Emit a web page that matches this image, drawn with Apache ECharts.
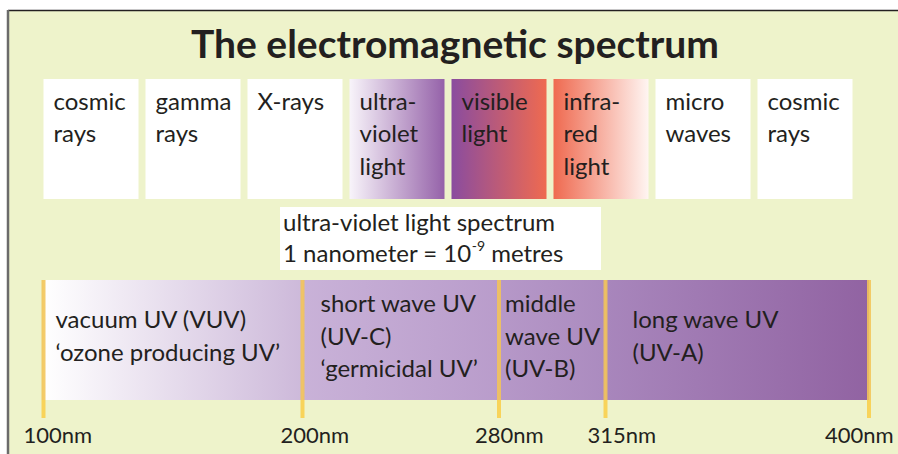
<!DOCTYPE html>
<html>
<head>
<meta charset="utf-8">
<script src="https://cdn.jsdelivr.net/npm/echarts@6/dist/echarts.min.js"></script>
<style>html,body{margin:0;padding:0;background:#fff}#c{width:898px;height:454px}</style>
</head>
<body>
<div id="c"></div>
<script>
// ---------------- DATA ----------------
const titleText = 'The electromagnetic spectrum';
const categories = ['cosmic rays', 'gamma rays', 'X-rays', 'ultra-violet light', 'visible light', 'infra-red light', 'micro waves', 'cosmic rays'];
const categoryLabels = ['cosmic\nrays', 'gamma\nrays', 'X-rays', 'ultra-\nviolet\nlight', 'visible\nlight', 'infra-\nred\nlight', 'micro\nwaves', 'cosmic\nrays'];
const categoryValues = [1, 1, 1, 1, 1, 1, 1, 1];
const subtitleLine1 = 'ultra-violet light spectrum';
const subtitleLine2 = '1 nanometer = 10{sup|-9} metres';
const uvBoundariesNm = [100, 200, 280, 315, 400];
const tickLabels = ['100nm', '200nm', '280nm', '315nm', '400nm'];
const uvBandNames = ['VUV', 'UV-C', 'UV-B', 'UV-A'];
const uvBandLabels = [
  'vacuum UV (VUV)\n\u2018ozone producing UV\u2019',
  'short wave UV\n(UV-C)\n\u2018germicidal UV\u2019',
  'middle\nwave UV\n(UV-B)',
  'long wave UV\n(UV-A)'
];

// ---------------- LAYOUT / STYLE ----------------
const FONT = 'Lato, "DejaVu Sans", sans-serif';
const TEXT = '#231F20';
const BG = '#EEF3CB';
// diagram is not drawn to scale: display width of each band
const bandDisplayWidths = [259, 196.5, 106.5, 263.5];
const bandTextOffsets = [12, 18, 6, 27];
const tickLabelOffsets = [-20, -22, -24, -18, -44];
const bandColors = [
  ['#FFFFFF', '#CDB9DA'],
  ['#C9B2D8', '#B99CCB'],
  ['#B698C8', '#AB8BBF'],
  ['#A886BC', '#9163A2']
];
const boxColors = [
  null, null, null,
  ['#F8F4FA', '#9562A9'],
  ['#8A4C9F', '#EF6A50'],
  ['#EF6A50', '#FFF5F2'],
  null, null
];
const cum = [0];
bandDisplayWidths.forEach((w, i) => cum.push(cum[i] + w));
const total = cum[cum.length - 1];

function grad(c) {
  return new echarts.graphic.LinearGradient(0, 0, 1, 0, [{offset: 0, color: c[0]}, {offset: 1, color: c[1]}]);
}

const chart = echarts.init(document.getElementById('c'), null, {renderer: 'svg'});

const option = {
  backgroundColor: '#FFFFFF',
  animation: false,
  graphic: [
    {type: 'rect', z: -100, shape: {x: 8, y: 10, width: 890, height: 444}, style: {fill: BG}},
    {type: 'line', z: -99, shape: {x1: 8, y1: 10.5, x2: 898, y2: 10.5}, style: {stroke: '#231F20', lineWidth: 1.5}},
    {type: 'line', z: -99, shape: {x1: 8, y1: 10, x2: 8, y2: 454}, style: {stroke: '#6B6B6B', lineWidth: 2.5}},
    {type: 'text', z: 6, x: 455, y: 43, style: {text: titleText, font: 'bold 39px ' + FONT, fill: TEXT, align: 'center', verticalAlign: 'middle'}},
    {type: 'rect', z: 5, shape: {x: 280, y: 207, width: 321, height: 63}, style: {fill: '#FFFFFF'}},
    {type: 'text', z: 6, x: 283, y: 221, style: {text: subtitleLine1, font: '24px ' + FONT, fill: TEXT, verticalAlign: 'middle'}},
    {type: 'text', z: 6, x: 283, y: 252, style: {
      text: subtitleLine2, font: '24px ' + FONT, fill: TEXT, verticalAlign: 'middle',
      rich: {sup: {fontSize: 14, fontFamily: FONT, fill: TEXT, padding: [0, 0, 13, 0]}}
    }}
  ],
  grid: [
    {left: 40, width: 816, top: 79, height: 120},
    {left: 43.5, right: 29, top: 280, height: 120}
  ],
  xAxis: [
    {type: 'category', gridIndex: 0, data: categories, show: false},
    {type: 'value', gridIndex: 1, min: 0, max: total, show: false}
  ],
  yAxis: [
    {type: 'value', gridIndex: 0, min: 0, max: 1, show: false},
    {type: 'value', gridIndex: 1, min: 0, max: 1, show: false}
  ],
  series: [
    {
      type: 'bar', xAxisIndex: 0, yAxisIndex: 0, barWidth: 95,
      data: categoryValues.map((v, i) => ({
        value: v,
        itemStyle: {color: boxColors[i] ? grad(boxColors[i]) : '#FFFFFF'}
      })),
      label: {
        show: true, position: 'insideTopLeft', distance: 0,
        padding: [5, 0, 0, 10],
        formatter: p => categoryLabels[p.dataIndex],
        fontFamily: FONT, fontSize: 24, lineHeight: 32.5, color: TEXT
      }
    },
    {
      type: 'custom', xAxisIndex: 1, yAxisIndex: 1, z: 2,
      data: uvBandNames.map((n, i) => [i]),
      renderItem: function (params, api) {
        const i = params.dataIndex;
        const p0 = api.coord([cum[i], 1]);
        const p1 = api.coord([cum[i + 1], 0]);
        return {
          type: 'group',
          children: [
            {type: 'rect', shape: {x: p0[0], y: p0[1], width: p1[0] - p0[0], height: p1[1] - p0[1]},
              style: {fill: grad(bandColors[i])}},
            {type: 'text', x: p0[0] + bandTextOffsets[i], y: (p0[1] + p1[1]) / 2 - 5,
              style: {text: uvBandLabels[i], font: '24px ' + FONT, fill: TEXT, lineHeight: 32.5, verticalAlign: 'middle', align: 'left'}}
          ]
        };
      }
    },
    {
      type: 'custom', xAxisIndex: 1, yAxisIndex: 1, z: 3,
      data: uvBoundariesNm.map((nm, i) => [i, nm]),
      renderItem: function (params, api) {
        const i = params.dataIndex;
        const pt = api.coord([cum[i], 1]);
        const pb = api.coord([cum[i], 0]);
        const pe = api.coord([cum[i], -0.15]);
        const pl = api.coord([cum[i], -0.29]);
        return {
          type: 'group',
          children: [
            {type: 'line', shape: {x1: pt[0], y1: pt[1], x2: pb[0], y2: pb[1]}, style: {stroke: '#F3C458', lineWidth: 4, opacity: 0.88}},
            {type: 'line', shape: {x1: pb[0], y1: pb[1], x2: pe[0], y2: pe[1]}, style: {stroke: '#F8D35A', lineWidth: 4}},
            {type: 'text', x: pl[0] + tickLabelOffsets[i], y: pl[1], style: {text: tickLabels[i], font: '22px ' + FONT, fill: TEXT, verticalAlign: 'middle', align: 'left'}}
          ]
        };
      }
    }
  ]
};
chart.setOption(option);
</script>
</body>
</html>
